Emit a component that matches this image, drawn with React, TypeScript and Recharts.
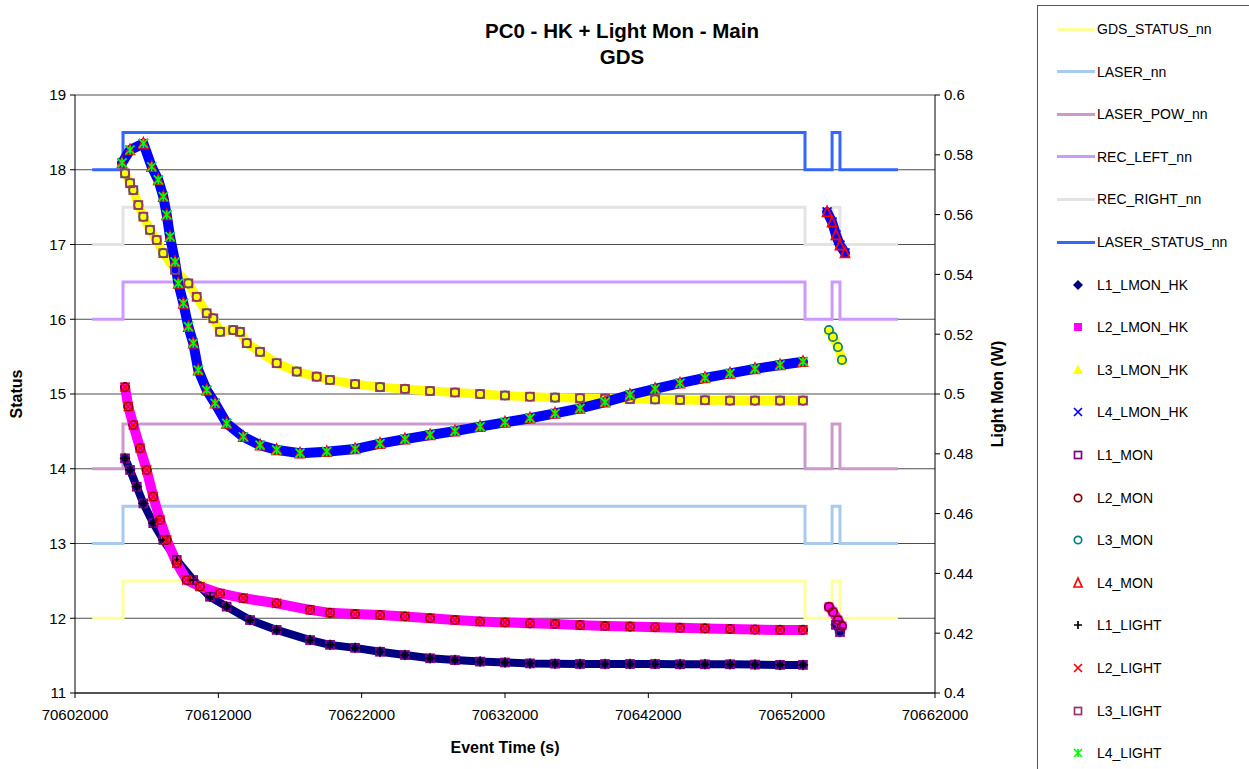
import React from 'react';
import { ComposedChart, Scatter, XAxis, YAxis, CartesianGrid } from 'recharts';

const FONT = '"Liberation Sans", Arial, Helvetica, sans-serif';

// axis ticks
const timeTicks = [70602000, 70612000, 70622000, 70632000, 70642000, 70652000, 70662000];
const statusTicks = [11, 12, 13, 14, 15, 16, 17, 18, 19];
const monTicks = [0.4, 0.42, 0.44, 0.46, 0.48, 0.5, 0.52, 0.54, 0.56, 0.58, 0.6];

// status channels (left axis): level held from each switching time
const statusTimes = [70603200, 70605350, 70652930, 70654820, 70655370, 70659420];
const gdsStatusNn = [12, 12.5, 12, 12.5, 12, 12];
const laserNn = [13, 13.5, 13, 13.5, 13, 13];
const laserPowNn = [14, 14.6, 14, 14.6, 14, 14];
const recLeftNn = [16, 16.5, 16, 16.5, 16, 16];
const recRightNn = [17, 17.5, 17, 17.5, 17, 17];
const laserStatusNn = [18, 18.5, 18, 18.5, 18, 18];

// light monitor readings (right axis, W)
const tailTimes = [
  70621540, 70623280, 70625020, 70626770, 70628510, 70630260, 70632000, 70633740, 70635490, 70637230,
  70638980, 70640720, 70642470, 70644210, 70645950, 70647700, 70649440, 70651190, 70652790,
];

const l1HeadTimes = [70605490, 70605840, 70606310, 70606770, 70607460, 70608160, 70609100, 70610250, 70611420, 70612580, 70614210, 70616070, 70618400, 70619790];
const l1HeadWatts = [0.4785, 0.4746, 0.469, 0.4634, 0.4568, 0.4512, 0.4445, 0.4378, 0.4322, 0.4289, 0.4244, 0.4211, 0.4177, 0.4161];
const l1TailWatts = [0.4151, 0.4138, 0.4127, 0.4116, 0.411, 0.4105, 0.4102, 0.4099, 0.4098, 0.4097, 0.4097, 0.4097, 0.4097, 0.4096, 0.4096, 0.4096, 0.4095, 0.4094, 0.4094];
const l1LateTimes = [70655090, 70655370];
const l1LateWatts = [0.4228, 0.4204];

const l2HeadTimes = [70605490, 70605720, 70606070, 70606540, 70607000, 70607460, 70607930, 70608400, 70609100, 70609790, 70610720, 70612120, 70613740, 70616070, 70618400, 70619790];
const l2HeadWatts = [0.5023, 0.4958, 0.4896, 0.4819, 0.4746, 0.4657, 0.4579, 0.4512, 0.4434, 0.4378, 0.4356, 0.4333, 0.4317, 0.43, 0.4278, 0.4268];
const l2TailWatts = [0.4264, 0.4261, 0.4256, 0.425, 0.4244, 0.4239, 0.4236, 0.4233, 0.4231, 0.4227, 0.4224, 0.4222, 0.422, 0.4218, 0.4216, 0.4214, 0.4212, 0.4211, 0.4211];
const l2LateTimes = [70654600, 70654880, 70655230, 70655510];
const l2LateWatts = [0.4288, 0.4271, 0.4244, 0.4224];

const l3HeadTimes = [70605490, 70605840, 70606070, 70606420, 70606770, 70607230, 70607700, 70608160, 70608980, 70609910, 70610490, 70611190, 70611650, 70612120, 70613040, 70613510, 70613980, 70614910, 70616070, 70617470, 70618860, 70619790];
const l3HeadWatts = [0.5738, 0.5705, 0.5682, 0.5632, 0.5593, 0.5549, 0.5515, 0.5471, 0.5415, 0.537, 0.5325, 0.527, 0.5253, 0.5208, 0.5214, 0.5208, 0.517, 0.5141, 0.5103, 0.5075, 0.5058, 0.5047];
const l3TailWatts = [0.5033, 0.5023, 0.5017, 0.501, 0.5005, 0.5, 0.4995, 0.4991, 0.4988, 0.4986, 0.4985, 0.4983, 0.4982, 0.498, 0.4979, 0.4978, 0.4978, 0.4978, 0.4978];
const l3LateTimes = [70654600, 70654880, 70655230, 70655510];
const l3LateWatts = [0.5214, 0.5191, 0.5157, 0.5114];

const l4HeadTimes = [70605280, 70605840, 70606770, 70607350, 70607810, 70608160, 70608400, 70608630, 70608980, 70609210, 70609560, 70609910, 70610250, 70610600, 70611190, 70611770, 70612580, 70613740, 70614910, 70616070, 70617700, 70619560];
const l4HeadWatts = [0.5773, 0.5816, 0.5838, 0.576, 0.5716, 0.566, 0.5599, 0.5526, 0.5442, 0.537, 0.5303, 0.5225, 0.517, 0.508, 0.5013, 0.4969, 0.4902, 0.4857, 0.4829, 0.4813, 0.4802, 0.4807];
const l4TailWatts = [0.4816, 0.4834, 0.4849, 0.4863, 0.4876, 0.4891, 0.4905, 0.4919, 0.4935, 0.4952, 0.4973, 0.4997, 0.5017, 0.5036, 0.5054, 0.5069, 0.5084, 0.5097, 0.5108];
const l4LateTimes = [70654470, 70654820, 70655090, 70655370, 70655720];
const l4LateWatts = [0.5609, 0.5575, 0.5532, 0.5498, 0.5472];

type Pt = { x: number; y: number };
const zip = (xs: number[], ys: number[]): Pt[] => xs.map((x, i) => ({ x, y: ys[i] }));

const l1 = zip([...l1HeadTimes, ...tailTimes], [...l1HeadWatts, ...l1TailWatts]);
const l2 = zip([...l2HeadTimes, ...tailTimes], [...l2HeadWatts, ...l2TailWatts]);
const l3 = zip([...l3HeadTimes, ...tailTimes], [...l3HeadWatts, ...l3TailWatts]);
const l4 = zip([...l4HeadTimes, ...tailTimes], [...l4HeadWatts, ...l4TailWatts]);
const l1Late = zip(l1LateTimes, l1LateWatts);
const l2Late = zip(l2LateTimes, l2LateWatts);
const l3Late = zip(l3LateTimes, l3LateWatts);
const l4Late = zip(l4LateTimes, l4LateWatts);

type MarkerKind = 'diamond' | 'square' | 'triangle' | 'cross' | 'openSquare' | 'circle' | 'openTriangle' | 'plus' | 'star';

function Marker({ kind, color, cx, cy, size = 9 }: { kind: MarkerKind; color: string; cx: number; cy: number; size?: number }) {
  const h = size / 2;
  const sw = 1.7;
  switch (kind) {
    case 'diamond':
      return <polygon points={`${cx},${cy - h - 1} ${cx + h + 1},${cy} ${cx},${cy + h + 1} ${cx - h - 1},${cy}`} fill={color} />;
    case 'square':
      return <rect x={cx - h} y={cy - h} width={size} height={size} fill={color} />;
    case 'triangle':
      return <polygon points={`${cx},${cy - h - 1} ${cx + h + 1},${cy + h} ${cx - h - 1},${cy + h}`} fill={color} />;
    case 'openTriangle':
      return <polygon points={`${cx},${cy - h - 1} ${cx + h},${cy + h} ${cx - h},${cy + h}`} fill="none" stroke={color} strokeWidth={sw} />;
    case 'openSquare':
      return <rect x={cx - h + 0.5} y={cy - h + 0.5} width={size - 1} height={size - 1} fill="none" stroke={color} strokeWidth={sw} />;
    case 'circle':
      return <circle cx={cx} cy={cy} r={h - 0.3} fill="none" stroke={color} strokeWidth={sw} />;
    case 'cross':
      return <path d={`M${cx - h},${cy - h}L${cx + h},${cy + h}M${cx + h},${cy - h}L${cx - h},${cy + h}`} stroke={color} strokeWidth={sw} />;
    case 'plus':
      return <path d={`M${cx - h},${cy}L${cx + h},${cy}M${cx},${cy - h}L${cx},${cy + h}`} stroke={color} strokeWidth={sw} />;
    case 'star':
      return (
        <path
          d={`M${cx - h},${cy - h}L${cx + h},${cy + h}M${cx + h},${cy - h}L${cx - h},${cy + h}M${cx},${cy - h}L${cx},${cy + h}`}
          stroke={color}
          strokeWidth={sw}
        />
      );
  }
  return <g />;
}

const markerShape = (kind: MarkerKind, color: string) => (p: any) =>
  p.cx == null ? <g /> : <Marker kind={kind} color={color} cx={p.cx} cy={p.cy} />;
const noShape = () => <g />;

const statusSeries = [
  { name: 'GDS_STATUS_nn', color: '#FFFF99', values: gdsStatusNn },
  { name: 'LASER_nn', color: '#A6CAF0', values: laserNn },
  { name: 'LASER_POW_nn', color: '#CC99CC', values: laserPowNn },
  { name: 'REC_LEFT_nn', color: '#CC99FF', values: recLeftNn },
  { name: 'REC_RIGHT_nn', color: '#E3E3E3', values: recRightNn },
  { name: 'LASER_STATUS_nn', color: '#3366FF', values: laserStatusNn },
];

type LightSeries = { name: string; color: string; kind: MarkerKind; main: Pt[]; late?: Pt[]; band?: number };

const hkSeries: LightSeries[] = [
  { name: 'L1_LMON_HK', color: '#000080', kind: 'diamond', main: l1, late: l1Late, band: 8 },
  { name: 'L2_LMON_HK', color: '#FF00FF', kind: 'square', main: l2, late: l2Late, band: 10 },
  { name: 'L3_LMON_HK', color: '#FFFF00', kind: 'triangle', main: l3, late: l3Late, band: 9 },
  { name: 'L4_LMON_HK', color: '#0000FF', kind: 'cross', main: l4, late: l4Late, band: 10 },
];
const monSeries: LightSeries[] = [
  { name: 'L1_MON', color: '#800080', kind: 'openSquare', main: l1, late: l1Late },
  { name: 'L2_MON', color: '#800000', kind: 'circle', main: l2, late: l2Late },
  { name: 'L3_MON', color: '#008080', kind: 'circle', main: l3, late: l3Late },
  { name: 'L4_MON', color: '#FF0000', kind: 'openTriangle', main: l4, late: l4Late },
];
const lightSeries: LightSeries[] = [
  { name: 'L1_LIGHT', color: '#000000', kind: 'plus', main: l1 },
  { name: 'L2_LIGHT', color: '#FF0000', kind: 'cross', main: l2 },
  { name: 'L3_LIGHT', color: '#993366', kind: 'openSquare', main: l3 },
  { name: 'L4_LIGHT', color: '#00FF00', kind: 'star', main: l4 },
];

function renderLight(s: LightSeries) {
  const parts = [s.main, ...(s.late ? [s.late] : [])];
  return parts.map((pts, i) => (
    <Scatter
      key={`${s.name}-${i}`}
      name={s.name}
      yAxisId="mon"
      data={pts}
      line={s.band ? { stroke: s.color, strokeWidth: s.band, strokeLinejoin: 'round', strokeLinecap: 'round' } : false}
      shape={markerShape(s.kind, s.color)}
      isAnimationActive={false}
    />
  ));
}

function LegendBox() {
  const rowH = 42.6;
  return (
    <div
      style={{
        position: 'absolute',
        left: 1037,
        top: 5,
        width: 240,
        height: 800,
        border: '1px solid #555',
        background: '#fff',
        fontFamily: FONT,
        fontSize: 14,
        color: '#000',
      }}
    >
      {statusSeries.map((s, i) => (
        <div key={s.name} style={{ position: 'absolute', top: 23 + i * rowH - 9, left: 0, height: 18, display: 'flex', alignItems: 'center' }}>
          <div style={{ marginLeft: 19, width: 38, height: 3, background: s.color }} />
          <span style={{ marginLeft: 2 }}>{s.name}</span>
        </div>
      ))}
      {[...hkSeries, ...monSeries, ...lightSeries].map((s, j) => {
        const i = j + statusSeries.length;
        return (
          <div key={s.name} style={{ position: 'absolute', top: 23 + i * rowH - 9, left: 0, height: 18, display: 'flex', alignItems: 'center' }}>
            <svg width={18} height={18} style={{ marginLeft: 31 }}>
              <Marker kind={s.kind} color={s.color} cx={9} cy={9} size={8} />
            </svg>
            <span style={{ marginLeft: 10 }}>{s.name}</span>
          </div>
        );
      })}
    </div>
  );
}

const tickStyle = { fill: '#000', fontSize: 15, fontFamily: FONT };
const axisTitle = { fontFamily: FONT, fontWeight: 700, fontSize: 16, lineHeight: '20px' } as const;

export default function App() {
  return (
    <div style={{ position: 'absolute', left: 0, top: 0, width: 1249, height: 769, background: '#fff', overflow: 'hidden' }}>
      <div style={{ position: 'absolute', left: 422, width: 400, top: 18, textAlign: 'center', fontFamily: FONT, fontWeight: 700, fontSize: 20.5, lineHeight: '26px' }}>
        PC0 - HK + Light Mon - Main
        <br />
        GDS
      </div>
      <ComposedChart width={1249} height={769} margin={{ top: 95, right: 254, bottom: 31, left: 20 }}>
        <CartesianGrid vertical={false} stroke="#4d4d4d" />
        <XAxis
          type="number"
          dataKey="x"
          domain={[70602000, 70662000]}
          ticks={timeTicks}
          interval={0}
          allowDataOverflow
          height={45}
          axisLine={{ stroke: '#000' }}
          tickLine={{ stroke: '#000' }}
          tickSize={5}
          tickMargin={11}
          tick={tickStyle}
        />
        <YAxis
          type="number"
          dataKey="y"
          domain={[11, 19]}
          ticks={statusTicks}
          interval={0}
          allowDataOverflow
          width={55}
          axisLine={{ stroke: '#000' }}
          tickLine={{ stroke: '#000' }}
          tickSize={5}
          tickMargin={4}
          tick={tickStyle}
        />
        <YAxis
          yAxisId="mon"
          orientation="right"
          type="number"
          dataKey="y"
          domain={[0.4, 0.6]}
          ticks={monTicks}
          interval={0}
          allowDataOverflow
          width={60}
          axisLine={{ stroke: '#000' }}
          tickLine={{ stroke: '#000' }}
          tickSize={5}
          tickMargin={4}
          tick={tickStyle}
        />
        {statusSeries.map((s) => (
          <Scatter
            key={s.name}
            name={s.name}
            data={zip(statusTimes, s.values)}
            line={{ stroke: s.color, strokeWidth: 3 }}
            lineJointType="stepAfter"
            shape={noShape}
            isAnimationActive={false}
          />
        ))}
        {hkSeries.map(renderLight)}
        {monSeries.map(renderLight)}
        {lightSeries.map(renderLight)}
      </ComposedChart>
      <div style={{ position: 'absolute', left: 305, width: 400, top: 738, textAlign: 'center', ...axisTitle }}>Event Time (s)</div>
      <div style={{ position: 'absolute', left: 17 - 100, top: 394 - 10, width: 200, height: 20, textAlign: 'center', transform: 'rotate(-90deg)', ...axisTitle }}>
        Status
      </div>
      <div style={{ position: 'absolute', left: 998 - 100, top: 394 - 10, width: 200, height: 20, textAlign: 'center', transform: 'rotate(-90deg)', ...axisTitle }}>
        Light Mon (W)
      </div>
      <LegendBox />
    </div>
  );
}
